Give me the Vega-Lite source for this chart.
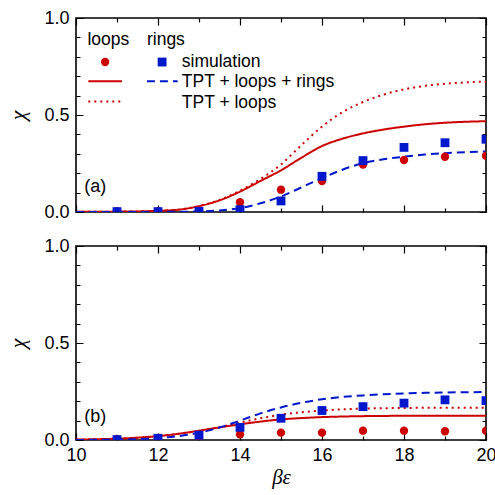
{
  "$schema": "https://vega.github.io/schema/vega-lite/v6.json",
  "padding": {"left": 6, "top": 8, "right": 10, "bottom": 5},
  "spacing": 14,
  "config": {
    "view": {"stroke": "black", "strokeWidth": 1.6},
    "font": "Liberation Sans",
    "axis": {
      "ticks": false,
      "domain": false,
      "gridColor": "#000000",
      "gridOpacity": 1,
      "gridWidth": 1.2,
      "labelFont": "Liberation Sans",
      "labelFontSize": 18,
      "labelColor": "black",
      "labelFlush": false,
      "labelOverlap": false,
      "titleColor": "black"
    }
  },
  "datasets": {
    "curves": [
      {"panel":"a","kind":"loops","curve":"loops, TPT + loops + rings","x":10,"y":0.001},
      {"panel":"a","kind":"loops","curve":"loops, TPT + loops + rings","x":10.5,"y":0.0015},
      {"panel":"a","kind":"loops","curve":"loops, TPT + loops + rings","x":11,"y":0.002},
      {"panel":"a","kind":"loops","curve":"loops, TPT + loops + rings","x":11.5,"y":0.003},
      {"panel":"a","kind":"loops","curve":"loops, TPT + loops + rings","x":12,"y":0.006},
      {"panel":"a","kind":"loops","curve":"loops, TPT + loops + rings","x":12.5,"y":0.012},
      {"panel":"a","kind":"loops","curve":"loops, TPT + loops + rings","x":13,"y":0.03},
      {"panel":"a","kind":"loops","curve":"loops, TPT + loops + rings","x":13.5,"y":0.06},
      {"panel":"a","kind":"loops","curve":"loops, TPT + loops + rings","x":14,"y":0.105},
      {"panel":"a","kind":"loops","curve":"loops, TPT + loops + rings","x":14.5,"y":0.16},
      {"panel":"a","kind":"loops","curve":"loops, TPT + loops + rings","x":15,"y":0.215},
      {"panel":"a","kind":"loops","curve":"loops, TPT + loops + rings","x":15.5,"y":0.28},
      {"panel":"a","kind":"loops","curve":"loops, TPT + loops + rings","x":16,"y":0.34},
      {"panel":"a","kind":"loops","curve":"loops, TPT + loops + rings","x":16.5,"y":0.378},
      {"panel":"a","kind":"loops","curve":"loops, TPT + loops + rings","x":17,"y":0.405},
      {"panel":"a","kind":"loops","curve":"loops, TPT + loops + rings","x":17.5,"y":0.425},
      {"panel":"a","kind":"loops","curve":"loops, TPT + loops + rings","x":18,"y":0.44},
      {"panel":"a","kind":"loops","curve":"loops, TPT + loops + rings","x":18.5,"y":0.452},
      {"panel":"a","kind":"loops","curve":"loops, TPT + loops + rings","x":19,"y":0.46},
      {"panel":"a","kind":"loops","curve":"loops, TPT + loops + rings","x":19.5,"y":0.465},
      {"panel":"a","kind":"loops","curve":"loops, TPT + loops + rings","x":20,"y":0.468},

      {"panel":"a","kind":"loops","curve":"loops, TPT + loops","x":10,"y":0.001},
      {"panel":"a","kind":"loops","curve":"loops, TPT + loops","x":10.5,"y":0.0015},
      {"panel":"a","kind":"loops","curve":"loops, TPT + loops","x":11,"y":0.002},
      {"panel":"a","kind":"loops","curve":"loops, TPT + loops","x":11.5,"y":0.003},
      {"panel":"a","kind":"loops","curve":"loops, TPT + loops","x":12,"y":0.006},
      {"panel":"a","kind":"loops","curve":"loops, TPT + loops","x":12.5,"y":0.012},
      {"panel":"a","kind":"loops","curve":"loops, TPT + loops","x":13,"y":0.031},
      {"panel":"a","kind":"loops","curve":"loops, TPT + loops","x":13.5,"y":0.062},
      {"panel":"a","kind":"loops","curve":"loops, TPT + loops","x":14,"y":0.11},
      {"panel":"a","kind":"loops","curve":"loops, TPT + loops","x":14.5,"y":0.17},
      {"panel":"a","kind":"loops","curve":"loops, TPT + loops","x":15,"y":0.245},
      {"panel":"a","kind":"loops","curve":"loops, TPT + loops","x":15.5,"y":0.345},
      {"panel":"a","kind":"loops","curve":"loops, TPT + loops","x":16,"y":0.44},
      {"panel":"a","kind":"loops","curve":"loops, TPT + loops","x":16.5,"y":0.515},
      {"panel":"a","kind":"loops","curve":"loops, TPT + loops","x":17,"y":0.567},
      {"panel":"a","kind":"loops","curve":"loops, TPT + loops","x":17.5,"y":0.605},
      {"panel":"a","kind":"loops","curve":"loops, TPT + loops","x":18,"y":0.632},
      {"panel":"a","kind":"loops","curve":"loops, TPT + loops","x":18.5,"y":0.65},
      {"panel":"a","kind":"loops","curve":"loops, TPT + loops","x":19,"y":0.661},
      {"panel":"a","kind":"loops","curve":"loops, TPT + loops","x":19.5,"y":0.668},
      {"panel":"a","kind":"loops","curve":"loops, TPT + loops","x":20,"y":0.672},

      {"panel":"a","kind":"rings","curve":"rings, TPT + loops + rings","x":10,"y":0},
      {"panel":"a","kind":"rings","curve":"rings, TPT + loops + rings","x":10.5,"y":0},
      {"panel":"a","kind":"rings","curve":"rings, TPT + loops + rings","x":11,"y":0},
      {"panel":"a","kind":"rings","curve":"rings, TPT + loops + rings","x":11.5,"y":0},
      {"panel":"a","kind":"rings","curve":"rings, TPT + loops + rings","x":12,"y":0.0005},
      {"panel":"a","kind":"rings","curve":"rings, TPT + loops + rings","x":12.5,"y":0.001},
      {"panel":"a","kind":"rings","curve":"rings, TPT + loops + rings","x":13,"y":0.003},
      {"panel":"a","kind":"rings","curve":"rings, TPT + loops + rings","x":13.5,"y":0.008},
      {"panel":"a","kind":"rings","curve":"rings, TPT + loops + rings","x":14,"y":0.02},
      {"panel":"a","kind":"rings","curve":"rings, TPT + loops + rings","x":14.5,"y":0.045},
      {"panel":"a","kind":"rings","curve":"rings, TPT + loops + rings","x":15,"y":0.08},
      {"panel":"a","kind":"rings","curve":"rings, TPT + loops + rings","x":15.5,"y":0.127},
      {"panel":"a","kind":"rings","curve":"rings, TPT + loops + rings","x":16,"y":0.175},
      {"panel":"a","kind":"rings","curve":"rings, TPT + loops + rings","x":16.5,"y":0.218},
      {"panel":"a","kind":"rings","curve":"rings, TPT + loops + rings","x":17,"y":0.252},
      {"panel":"a","kind":"rings","curve":"rings, TPT + loops + rings","x":17.5,"y":0.272},
      {"panel":"a","kind":"rings","curve":"rings, TPT + loops + rings","x":18,"y":0.285},
      {"panel":"a","kind":"rings","curve":"rings, TPT + loops + rings","x":18.5,"y":0.296},
      {"panel":"a","kind":"rings","curve":"rings, TPT + loops + rings","x":19,"y":0.303},
      {"panel":"a","kind":"rings","curve":"rings, TPT + loops + rings","x":19.5,"y":0.308},
      {"panel":"a","kind":"rings","curve":"rings, TPT + loops + rings","x":20,"y":0.312},

      {"panel":"b","kind":"loops","curve":"loops, TPT + loops + rings","x":10,"y":0.002},
      {"panel":"b","kind":"loops","curve":"loops, TPT + loops + rings","x":10.5,"y":0.004},
      {"panel":"b","kind":"loops","curve":"loops, TPT + loops + rings","x":11,"y":0.007},
      {"panel":"b","kind":"loops","curve":"loops, TPT + loops + rings","x":11.5,"y":0.012},
      {"panel":"b","kind":"loops","curve":"loops, TPT + loops + rings","x":12,"y":0.02},
      {"panel":"b","kind":"loops","curve":"loops, TPT + loops + rings","x":12.5,"y":0.032},
      {"panel":"b","kind":"loops","curve":"loops, TPT + loops + rings","x":13,"y":0.048},
      {"panel":"b","kind":"loops","curve":"loops, TPT + loops + rings","x":13.5,"y":0.065},
      {"panel":"b","kind":"loops","curve":"loops, TPT + loops + rings","x":14,"y":0.081},
      {"panel":"b","kind":"loops","curve":"loops, TPT + loops + rings","x":14.5,"y":0.095},
      {"panel":"b","kind":"loops","curve":"loops, TPT + loops + rings","x":15,"y":0.106},
      {"panel":"b","kind":"loops","curve":"loops, TPT + loops + rings","x":15.5,"y":0.113},
      {"panel":"b","kind":"loops","curve":"loops, TPT + loops + rings","x":16,"y":0.118},
      {"panel":"b","kind":"loops","curve":"loops, TPT + loops + rings","x":16.5,"y":0.121},
      {"panel":"b","kind":"loops","curve":"loops, TPT + loops + rings","x":17,"y":0.123},
      {"panel":"b","kind":"loops","curve":"loops, TPT + loops + rings","x":17.5,"y":0.124},
      {"panel":"b","kind":"loops","curve":"loops, TPT + loops + rings","x":18,"y":0.125},
      {"panel":"b","kind":"loops","curve":"loops, TPT + loops + rings","x":18.5,"y":0.125},
      {"panel":"b","kind":"loops","curve":"loops, TPT + loops + rings","x":19,"y":0.125},
      {"panel":"b","kind":"loops","curve":"loops, TPT + loops + rings","x":19.5,"y":0.125},
      {"panel":"b","kind":"loops","curve":"loops, TPT + loops + rings","x":20,"y":0.125},

      {"panel":"b","kind":"loops","curve":"loops, TPT + loops","x":10,"y":0.002},
      {"panel":"b","kind":"loops","curve":"loops, TPT + loops","x":10.5,"y":0.004},
      {"panel":"b","kind":"loops","curve":"loops, TPT + loops","x":11,"y":0.007},
      {"panel":"b","kind":"loops","curve":"loops, TPT + loops","x":11.5,"y":0.012},
      {"panel":"b","kind":"loops","curve":"loops, TPT + loops","x":12,"y":0.02},
      {"panel":"b","kind":"loops","curve":"loops, TPT + loops","x":12.5,"y":0.032},
      {"panel":"b","kind":"loops","curve":"loops, TPT + loops","x":13,"y":0.048},
      {"panel":"b","kind":"loops","curve":"loops, TPT + loops","x":13.5,"y":0.066},
      {"panel":"b","kind":"loops","curve":"loops, TPT + loops","x":14,"y":0.09},
      {"panel":"b","kind":"loops","curve":"loops, TPT + loops","x":14.5,"y":0.112},
      {"panel":"b","kind":"loops","curve":"loops, TPT + loops","x":15,"y":0.13},
      {"panel":"b","kind":"loops","curve":"loops, TPT + loops","x":15.5,"y":0.143},
      {"panel":"b","kind":"loops","curve":"loops, TPT + loops","x":16,"y":0.152},
      {"panel":"b","kind":"loops","curve":"loops, TPT + loops","x":16.5,"y":0.158},
      {"panel":"b","kind":"loops","curve":"loops, TPT + loops","x":17,"y":0.162},
      {"panel":"b","kind":"loops","curve":"loops, TPT + loops","x":17.5,"y":0.164},
      {"panel":"b","kind":"loops","curve":"loops, TPT + loops","x":18,"y":0.165},
      {"panel":"b","kind":"loops","curve":"loops, TPT + loops","x":18.5,"y":0.166},
      {"panel":"b","kind":"loops","curve":"loops, TPT + loops","x":19,"y":0.166},
      {"panel":"b","kind":"loops","curve":"loops, TPT + loops","x":19.5,"y":0.166},
      {"panel":"b","kind":"loops","curve":"loops, TPT + loops","x":20,"y":0.166},

      {"panel":"b","kind":"rings","curve":"rings, TPT + loops + rings","x":10,"y":0},
      {"panel":"b","kind":"rings","curve":"rings, TPT + loops + rings","x":10.5,"y":0.001},
      {"panel":"b","kind":"rings","curve":"rings, TPT + loops + rings","x":11,"y":0.002},
      {"panel":"b","kind":"rings","curve":"rings, TPT + loops + rings","x":11.5,"y":0.004},
      {"panel":"b","kind":"rings","curve":"rings, TPT + loops + rings","x":12,"y":0.01},
      {"panel":"b","kind":"rings","curve":"rings, TPT + loops + rings","x":12.5,"y":0.02},
      {"panel":"b","kind":"rings","curve":"rings, TPT + loops + rings","x":13,"y":0.037},
      {"panel":"b","kind":"rings","curve":"rings, TPT + loops + rings","x":13.5,"y":0.064},
      {"panel":"b","kind":"rings","curve":"rings, TPT + loops + rings","x":14,"y":0.1},
      {"panel":"b","kind":"rings","curve":"rings, TPT + loops + rings","x":14.5,"y":0.137},
      {"panel":"b","kind":"rings","curve":"rings, TPT + loops + rings","x":15,"y":0.168},
      {"panel":"b","kind":"rings","curve":"rings, TPT + loops + rings","x":15.5,"y":0.192},
      {"panel":"b","kind":"rings","curve":"rings, TPT + loops + rings","x":16,"y":0.21},
      {"panel":"b","kind":"rings","curve":"rings, TPT + loops + rings","x":16.5,"y":0.222},
      {"panel":"b","kind":"rings","curve":"rings, TPT + loops + rings","x":17,"y":0.23},
      {"panel":"b","kind":"rings","curve":"rings, TPT + loops + rings","x":17.5,"y":0.236},
      {"panel":"b","kind":"rings","curve":"rings, TPT + loops + rings","x":18,"y":0.24},
      {"panel":"b","kind":"rings","curve":"rings, TPT + loops + rings","x":18.5,"y":0.243},
      {"panel":"b","kind":"rings","curve":"rings, TPT + loops + rings","x":19,"y":0.245},
      {"panel":"b","kind":"rings","curve":"rings, TPT + loops + rings","x":19.5,"y":0.246},
      {"panel":"b","kind":"rings","curve":"rings, TPT + loops + rings","x":20,"y":0.247}
    ],
    "sims": [
      {"panel":"a","kind":"loops","x":11,"y":0.003},
      {"panel":"a","kind":"loops","x":12,"y":0.004},
      {"panel":"a","kind":"loops","x":13,"y":0.006},
      {"panel":"a","kind":"loops","x":14,"y":0.05},
      {"panel":"a","kind":"loops","x":15,"y":0.115},
      {"panel":"a","kind":"loops","x":16,"y":0.16},
      {"panel":"a","kind":"loops","x":17,"y":0.245},
      {"panel":"a","kind":"loops","x":18,"y":0.268},
      {"panel":"a","kind":"loops","x":19,"y":0.285},
      {"panel":"a","kind":"loops","x":20,"y":0.29},
      {"panel":"a","kind":"rings","x":11,"y":0.002},
      {"panel":"a","kind":"rings","x":12,"y":0.002},
      {"panel":"a","kind":"rings","x":13,"y":0.003},
      {"panel":"a","kind":"rings","x":14,"y":0.012},
      {"panel":"a","kind":"rings","x":15,"y":0.057},
      {"panel":"a","kind":"rings","x":16,"y":0.184},
      {"panel":"a","kind":"rings","x":17,"y":0.265},
      {"panel":"a","kind":"rings","x":18,"y":0.333},
      {"panel":"a","kind":"rings","x":19,"y":0.357},
      {"panel":"a","kind":"rings","x":20,"y":0.375},
      {"panel":"b","kind":"loops","x":11,"y":0.005},
      {"panel":"b","kind":"loops","x":12,"y":0.006},
      {"panel":"b","kind":"loops","x":13,"y":0.015},
      {"panel":"b","kind":"loops","x":14,"y":0.029},
      {"panel":"b","kind":"loops","x":15,"y":0.038},
      {"panel":"b","kind":"loops","x":16,"y":0.038},
      {"panel":"b","kind":"loops","x":17,"y":0.048},
      {"panel":"b","kind":"loops","x":18,"y":0.048},
      {"panel":"b","kind":"loops","x":19,"y":0.045},
      {"panel":"b","kind":"loops","x":20,"y":0.048},
      {"panel":"b","kind":"rings","x":11,"y":0.002},
      {"panel":"b","kind":"rings","x":12,"y":0.009},
      {"panel":"b","kind":"rings","x":13,"y":0.025},
      {"panel":"b","kind":"rings","x":14,"y":0.065},
      {"panel":"b","kind":"rings","x":15,"y":0.112},
      {"panel":"b","kind":"rings","x":16,"y":0.152},
      {"panel":"b","kind":"rings","x":17,"y":0.172},
      {"panel":"b","kind":"rings","x":18,"y":0.19},
      {"panel":"b","kind":"rings","x":19,"y":0.207},
      {"panel":"b","kind":"rings","x":20,"y":0.203}
    ],
    "legendText": [
      {"x":10.28,"y":0.859,"text":"loops"},
      {"x":11.73,"y":0.859,"text":"rings"},
      {"x":12.58,"y":0.749,"text":"simulation"},
      {"x":12.58,"y":0.646,"text":"TPT + loops + rings"},
      {"x":12.58,"y":0.535,"text":"TPT + loops"}
    ],
    "legendSymbols": [
      {"kind":"loops","x":10.71,"y":0.773},
      {"kind":"rings","x":12.1,"y":0.773}
    ],
    "legendLines": [
      {"kind":"loops","curve":"loops, TPT + loops + rings","x":10.3,"x2":11.12,"y":0.674},
      {"kind":"rings","curve":"rings, TPT + loops + rings","x":11.73,"x2":12.48,"y":0.674},
      {"kind":"loops","curve":"loops, TPT + loops","x":10.3,"x2":11.1,"y":0.569}
    ],
    "panelLabels": [
      {"panel":"a","x":10.2,"y":0.129,"text":"(a)"},
      {"panel":"b","x":10.2,"y":0.116,"text":"(b)"}
    ]
  },
  "vconcat": [
    {
      "width": 410,
      "height": 194,
      "resolve": {"axis": {"x": "independent", "y": "independent"}},
      "layer": [
        {
          "data": {"name": "curves"},
          "transform": [{"filter": "datum.panel === 'a'"}],
          "mark": {"type": "line", "strokeWidth": 2, "interpolate": "monotone", "clip": true},
          "encoding": {
            "x": {"field": "x", "type": "quantitative", "scale": {"domain": [10, 20], "nice": false, "zero": false},
              "axis": {"orient": "bottom", "values": [10,11,12,13,14,15,16,17,18,19,20], "labels": false, "title": null,
                "grid": true,
                "gridDash": {"condition": {"test": "datum.value % 2 === 0", "value": [7, 180]}, "value": [4, 186]}}},
            "y": {"field": "y", "type": "quantitative", "scale": {"domain": [0, 1], "nice": false, "zero": false},
              "axis": {"orient": "left", "values": [0,0.1,0.2,0.3,0.4,0.5,0.6,0.7,0.8,0.9,1],
                "labelExpr": "abs(datum.value*2 - round(datum.value*2)) < 0.001 ? format(datum.value, '.1f') : ''",
                "labelPadding": 7,
                "grid": true,
                "gridDash": {"condition": {"test": "abs(datum.value*2 - round(datum.value*2)) < 0.001", "value": [7, 396]}, "value": [4, 402]},
                "title": "χ", "titleFont": "Liberation Serif", "titleFontStyle": "italic", "titleFontWeight": "normal", "titleFontSize": 22, "titlePadding": 14}},
            "color": {"field": "kind", "type": "nominal", "scale": {"domain": ["loops", "rings"], "range": ["#cc0000", "#0018cc"]}, "legend": null},
            "strokeDash": {"field": "curve", "type": "nominal", "scale": {"domain": ["loops, TPT + loops + rings", "rings, TPT + loops + rings", "loops, TPT + loops"], "range": [[1, 0], [8, 5], [2, 4]]}, "legend": null}
          }
        },
        {
          "data": {"name": "sims"},
          "transform": [{"filter": "datum.panel === 'a'"}],
          "mark": {"type": "point", "filled": true, "opacity": 1, "clip": true},
          "encoding": {
            "x": {"field": "x", "type": "quantitative", "axis": null},
            "y": {"field": "y", "type": "quantitative", "axis": null},
            "color": {"field": "kind", "type": "nominal", "legend": null},
            "shape": {"field": "kind", "type": "nominal", "scale": {"domain": ["loops", "rings"], "range": ["circle", "square"]}, "legend": null},
            "size": {"field": "kind", "type": "nominal", "scale": {"domain": ["loops", "rings"], "range": [70, 78]}, "legend": null}
          }
        },
        {
          "data": {"name": "legendLines"},
          "mark": {"type": "rule", "strokeWidth": 2},
          "encoding": {
            "x": {"field": "x", "type": "quantitative", "axis": null},
            "x2": {"field": "x2"},
            "y": {"field": "y", "type": "quantitative", "axis": null},
            "color": {"field": "kind", "type": "nominal", "legend": null},
            "strokeDash": {"field": "curve", "type": "nominal", "legend": null}
          }
        },
        {
          "data": {"name": "legendSymbols"},
          "mark": {"type": "point", "filled": true, "opacity": 1},
          "encoding": {
            "x": {"field": "x", "type": "quantitative", "axis": null},
            "y": {"field": "y", "type": "quantitative", "axis": null},
            "color": {"field": "kind", "type": "nominal", "legend": null},
            "shape": {"field": "kind", "type": "nominal", "legend": null},
            "size": {"field": "kind", "type": "nominal", "legend": null}
          }
        },
        {
          "data": {"name": "legendText"},
          "mark": {"type": "text", "align": "left", "baseline": "alphabetic", "fontSize": 17.5, "font": "Liberation Sans", "color": "black"},
          "encoding": {
            "x": {"field": "x", "type": "quantitative", "axis": null},
            "y": {"field": "y", "type": "quantitative", "axis": null},
            "text": {"field": "text"}
          }
        },
        {
          "data": {"name": "panelLabels"},
          "transform": [{"filter": "datum.panel === 'a'"}],
          "mark": {"type": "text", "align": "left", "baseline": "middle", "fontSize": 18, "font": "Liberation Sans", "color": "black"},
          "encoding": {
            "x": {"field": "x", "type": "quantitative", "axis": null},
            "y": {"field": "y", "type": "quantitative", "axis": null},
            "text": {"field": "text"}
          }
        }
      ]
    },
    {
      "width": 410,
      "height": 194,
      "resolve": {"axis": {"x": "independent", "y": "independent"}},
      "layer": [
        {
          "data": {"name": "curves"},
          "transform": [{"filter": "datum.panel === 'b'"}],
          "mark": {"type": "line", "strokeWidth": 2, "interpolate": "monotone", "clip": true},
          "encoding": {
            "x": {"field": "x", "type": "quantitative", "scale": {"domain": [10, 20], "nice": false, "zero": false},
              "axis": {"orient": "bottom", "values": [10,11,12,13,14,15,16,17,18,19,20],
                "labelExpr": "datum.value % 2 === 0 ? datum.label : ''",
                "labelPadding": 6,
                "grid": true,
                "gridDash": {"condition": {"test": "datum.value % 2 === 0", "value": [7, 180]}, "value": [4, 186]},
                "title": "βε", "titleFont": "Liberation Serif", "titleFontStyle": "italic", "titleFontWeight": "normal", "titleFontSize": 21, "titlePadding": 2}},
            "y": {"field": "y", "type": "quantitative", "scale": {"domain": [0, 1], "nice": false, "zero": false},
              "axis": {"orient": "left", "values": [0,0.1,0.2,0.3,0.4,0.5,0.6,0.7,0.8,0.9,1],
                "labelExpr": "abs(datum.value*2 - round(datum.value*2)) < 0.001 ? format(datum.value, '.1f') : ''",
                "labelPadding": 7,
                "grid": true,
                "gridDash": {"condition": {"test": "abs(datum.value*2 - round(datum.value*2)) < 0.001", "value": [7, 396]}, "value": [4, 402]},
                "title": "χ", "titleFont": "Liberation Serif", "titleFontStyle": "italic", "titleFontWeight": "normal", "titleFontSize": 22, "titlePadding": 14}},
            "color": {"field": "kind", "type": "nominal", "scale": {"domain": ["loops", "rings"], "range": ["#cc0000", "#0018cc"]}, "legend": null},
            "strokeDash": {"field": "curve", "type": "nominal", "scale": {"domain": ["loops, TPT + loops + rings", "rings, TPT + loops + rings", "loops, TPT + loops"], "range": [[1, 0], [8, 5], [2, 4]]}, "legend": null}
          }
        },
        {
          "data": {"name": "sims"},
          "transform": [{"filter": "datum.panel === 'b'"}],
          "mark": {"type": "point", "filled": true, "opacity": 1, "clip": true},
          "encoding": {
            "x": {"field": "x", "type": "quantitative", "axis": null},
            "y": {"field": "y", "type": "quantitative", "axis": null},
            "color": {"field": "kind", "type": "nominal", "legend": null},
            "shape": {"field": "kind", "type": "nominal", "scale": {"domain": ["loops", "rings"], "range": ["circle", "square"]}, "legend": null},
            "size": {"field": "kind", "type": "nominal", "scale": {"domain": ["loops", "rings"], "range": [70, 78]}, "legend": null}
          }
        },
        {
          "data": {"name": "panelLabels"},
          "transform": [{"filter": "datum.panel === 'b'"}],
          "mark": {"type": "text", "align": "left", "baseline": "middle", "fontSize": 18, "font": "Liberation Sans", "color": "black"},
          "encoding": {
            "x": {"field": "x", "type": "quantitative", "axis": null},
            "y": {"field": "y", "type": "quantitative", "axis": null},
            "text": {"field": "text"}
          }
        }
      ]
    }
  ]
}
